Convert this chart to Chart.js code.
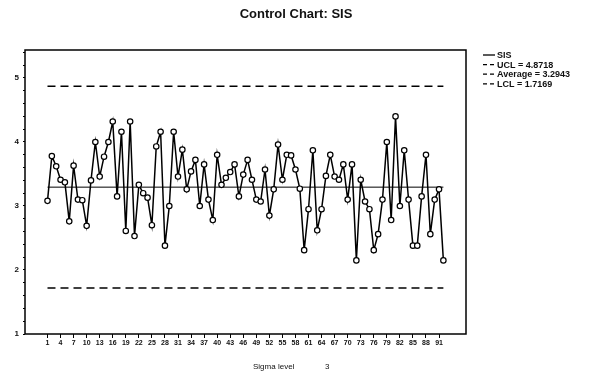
<!DOCTYPE html>
<html>
<head>
<meta charset="utf-8">
<script src="https://cdn.jsdelivr.net/npm/chart.js@4/dist/chart.umd.min.js"></script>
<style>
  html, body { margin: 0; padding: 0; background: #ffffff; }
  #wrap { width: 592px; height: 379px; position: relative; }
</style>
</head>
<body>
<div id="wrap"><canvas id="c" width="592" height="379"></canvas></div>
<script>
// ---- data ----
const chartTitle = 'Control Chart: SIS';
const seriesName = 'SIS';
const sisValues = [
  3.08, 3.78, 3.62, 3.41, 3.37, 2.76, 3.63, 3.10, 3.09, 2.69,
  3.40, 4.00, 3.46, 3.77, 4.00, 4.32, 3.15, 4.16, 2.61, 4.32,
  2.53, 3.33, 3.20, 3.13, 2.70, 3.93, 4.16, 2.38, 3.00, 4.16,
  3.46, 3.88, 3.26, 3.54, 3.72, 3.00, 3.65, 3.10, 2.78, 3.80,
  3.33, 3.44, 3.53, 3.65, 3.15, 3.49, 3.72, 3.41, 3.10, 3.07,
  3.57, 2.85, 3.26, 3.96, 3.41, 3.80, 3.79, 3.57, 3.27, 2.31,
  2.95, 3.87, 2.62, 2.95, 3.47, 3.80, 3.46, 3.41, 3.65, 3.10,
  3.65, 2.15, 3.41, 3.07, 2.95, 2.31, 2.56, 3.10, 4.00, 2.78,
  4.40, 3.00, 3.87, 3.10, 2.38, 2.38, 3.15, 3.80, 2.56, 3.10,
  3.26, 2.15
];
const pointNumbers = sisValues.map((v, i) => i + 1);
const ucl = 4.8718;
const average = 3.2943;
const lcl = 1.7169;
const xTickLabels = [1, 4, 7, 10, 13, 16, 19, 22, 25, 28, 31, 34, 37, 40, 43, 46,
  49, 52, 55, 58, 61, 64, 67, 70, 73, 76, 79, 82, 85, 88, 91];
const yTickLabels = [1, 2, 3, 4, 5];
const xAxisTitle = 'Sigma level';
const sigmaLevel = '3';
const legendLabels = [
  seriesName,
  'UCL = ' + ucl.toFixed(4),
  'Average = ' + average.toFixed(4),
  'LCL = ' + lcl.toFixed(4)
];

// ---- build ----
const firstPt = pointNumbers[0];
const lastPt = pointNumbers[pointNumbers.length - 1];
const sisData = pointNumbers.map((n, i) => ({ x: n, y: sisValues[i] }));
const hLine = v => [{ x: firstPt, y: v }, { x: lastPt, y: v }];

const FONT = '"Liberation Sans", Arial, sans-serif';

const decorPlugin = {
  id: 'decor',
  afterDraw(chart) {
    const ctx = chart.ctx;
    const a = chart.chartArea;
    ctx.save();
    // frame
    ctx.strokeStyle = '#000';
    ctx.lineWidth = 1.5;
    ctx.strokeRect(a.left, a.top, a.right - a.left, a.bottom - a.top);
    // title
    ctx.fillStyle = '#111';
    ctx.font = 'bold 13px ' + FONT;
    ctx.textAlign = 'center';
    ctx.textBaseline = 'middle';
    ctx.fillText(chartTitle, 296, 14);
    // axis title
    ctx.font = '8px ' + FONT;
    ctx.textAlign = 'left';
    ctx.fillText(xAxisTitle, 253, 367);
    ctx.fillText(sigmaLevel, 325, 367);
    // legend
    ctx.font = 'bold 9px ' + FONT;
    legendLabels.forEach((lab, i) => {
      const y = 55 + i * 9.6;
      ctx.beginPath();
      ctx.setLineDash(i === 0 ? [] : [4, 3]);
      ctx.lineWidth = 1.3;
      ctx.moveTo(483, y);
      ctx.lineTo(495, y);
      ctx.stroke();
      ctx.setLineDash([]);
      ctx.fillText(lab, 497, y + 0.5);
    });
    ctx.restore();
  }
};

new Chart(document.getElementById('c'), {
  type: 'line',
  data: {
    datasets: [
      {
        label: seriesName,
        data: sisData,
        borderColor: '#000',
        borderWidth: 1.5,
        pointRadius: 2.7,
        pointBackgroundColor: '#fff',
        pointBorderColor: '#000',
        pointBorderWidth: 1.2,
        tension: 0,
        order: 0
      },
      {
        label: legendLabels[1],
        data: hLine(ucl),
        borderColor: '#000',
        borderWidth: 1.5,
        borderDash: [8, 5],
        pointRadius: 0,
        order: 1
      },
      {
        label: legendLabels[2],
        data: hLine(average),
        borderColor: '#000',
        borderWidth: 1,
        pointRadius: 0,
        order: 1
      },
      {
        label: legendLabels[3],
        data: hLine(lcl),
        borderColor: '#000',
        borderWidth: 1.5,
        borderDash: [8, 5],
        pointRadius: 0,
        order: 1
      }
    ]
  },
  options: {
    responsive: false,
    animation: false,
    devicePixelRatio: 1,
    layout: { padding: { top: 50, right: 126, left: 0, bottom: 0 } },
    plugins: {
      legend: { display: false },
      title: { display: false },
      tooltip: { enabled: false }
    },
    scales: {
      x: {
        type: 'linear',
        min: -4.17,
        max: 97.2,
        afterFit(scale) { scale.height = 45; },
        afterBuildTicks(scale) { scale.ticks = xTickLabels.map(v => ({ value: v })); },
        grid: { drawOnChartArea: false, drawTicks: true, tickLength: 4, color: '#000', lineWidth: 1 },
        border: { display: false },
        ticks: {
          autoSkip: false,
          maxRotation: 0,
          minRotation: 0,
          padding: 1,
          color: '#111',
          font: { family: FONT, size: 7, weight: 'bold' },
          callback: v => String(v)
        }
      },
      y: {
        type: 'linear',
        min: 1,
        max: 5.437,
        afterFit(scale) { scale.width = 25; },
        grid: { drawOnChartArea: false, drawTicks: true, tickLength: 2, color: '#000', lineWidth: 1 },
        border: { display: false },
        ticks: {
          stepSize: 0.2,
          includeBounds: false,
          autoSkip: false,
          padding: 4,
          color: '#111',
          font: { family: FONT, size: 8, weight: 'bold' },
          callback: v => {
            const r = Math.round(v * 1000) / 1000;
            return yTickLabels.includes(r) ? String(r) : '';
          }
        }
      }
    }
  },
  plugins: [decorPlugin]
});
</script>
</body>
</html>
